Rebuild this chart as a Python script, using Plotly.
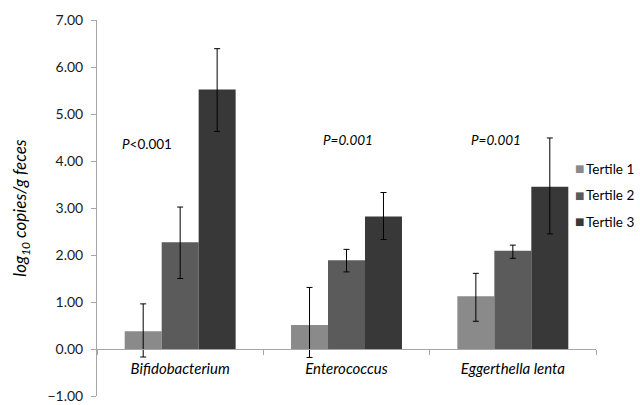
import plotly.graph_objects as go

categories = ["Bifidobacterium", "Enterococcus", "Eggerthella lenta"]
series_names = ["Tertile 1", "Tertile 2", "Tertile 3"]
means = [
    [0.38, 0.51, 1.12],
    [2.27, 1.89, 2.09],
    [5.52, 2.82, 3.45],
]
err_plus = [
    [0.58, 0.80, 0.49],
    [0.75, 0.23, 0.12],
    [0.87, 0.51, 1.04],
]
err_minus = [
    [0.55, 0.69, 0.53],
    [0.77, 0.25, 0.16],
    [0.89, 0.49, 1.00],
]
p_labels = ["<i>P</i><0.001", "<i>P=0.001</i>", "<i>P=0.001</i>"]
y_ticks = [-1, 0, 1, 2, 3, 4, 5, 6, 7]

colors = ["#8a8a8a", "#5b5b5b", "#383838"]
FONT = "Lato"

cat_labels = [f"<i>{c}</i>" for c in categories]

fig = go.Figure()
for i, name in enumerate(series_names):
    fig.add_trace(go.Bar(
        x=cat_labels, y=means[i], name=name,
        marker=dict(color=colors[i], line=dict(width=0)),
        error_y=dict(type="data", symmetric=False, array=err_plus[i],
                     arrayminus=err_minus[i], color="#000000",
                     thickness=1, width=3),
        showlegend=False,
    ))

annotations = []
p_pos = [(-0.20, 4.37), (1.01, 4.44), (1.90, 4.44)]
for (px, py), txt in zip(p_pos, p_labels):
    annotations.append(dict(x=px, y=py, xref="x", yref="y", text=txt,
                            showarrow=False, font=dict(family=FONT, size=13.5, color="#000000")))

# manual legend (square + label)
leg_y = [0.605, 0.534, 0.463]
for name, col, ly in zip(series_names, colors, leg_y):
    annotations.append(dict(
        x=0.954, y=ly, xref="paper", yref="paper", xanchor="left", yanchor="middle",
        text="■", showarrow=False, font=dict(family="DejaVu Sans", size=10, color=col)))
    annotations.append(dict(
        x=0.975, y=ly, xref="paper", yref="paper", xanchor="left", yanchor="middle",
        text=name, showarrow=False, font=dict(family=FONT, size=13.5, color="#000000")))

fig.update_layout(
    width=640, height=405,
    margin=dict(l=97, r=44, t=20, b=9, autoexpand=False),
    paper_bgcolor="white", plot_bgcolor="white",
    barmode="group", bargap=0.333, bargroupgap=0,
    font=dict(family=FONT, size=14, color="#1a1a1a"),
    annotations=annotations,
    xaxis=dict(
        type="category", range=[-0.5, 2.5], automargin=False,
        anchor="free", position=0.125,
        showline=True, linecolor="#a6a6a6", linewidth=1,
        ticks="outside", tickson="boundaries", ticklen=5, tickcolor="#a6a6a6",
        tickfont=dict(family=FONT, size=15, color="#000000"),
        ticklabelstandoff=6,
        showgrid=False, zeroline=False,
    ),
    yaxis=dict(
        range=[-1, 7], tickvals=y_ticks, tickformat=".2f", automargin=False,
        showline=True, linecolor="#a6a6a6", linewidth=1,
        ticks="outside", ticklen=5, tickcolor="#a6a6a6",
        tickfont=dict(family=FONT, size=14, color="#1a1a1a"),
        ticklabelstandoff=5, ticklabeloverflow="allow",
        showgrid=False, zeroline=False,
        title=dict(text="<i>log<sub>10</sub> copies/g feces</i>",
                   font=dict(family=FONT, size=17, color="#000000"), standoff=16),
    ),
)

fig.write_html("out.html", config={"displayModeBar": False},
               post_script="document.body.style.margin='0';")
